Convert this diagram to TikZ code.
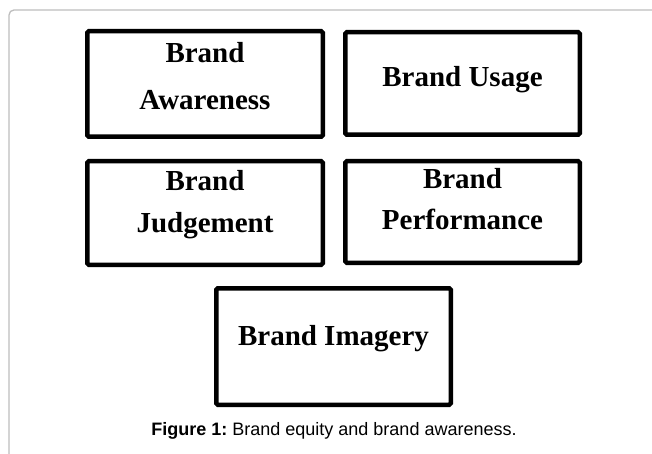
\documentclass[tikz,border=0pt]{standalone}
\usepackage{fontspec}
\setmainfont{Liberation Serif}
\newfontfamily\capfont{Liberation Sans}
\definecolor{framegray}{RGB}{190,190,190}
\frenchspacing
\tikzset{
  brandbox/.style={draw=black, line width=4.5pt, rounded corners=1.5pt, inner sep=0pt, fill=white},
  captext/.style={anchor=base, inner sep=0pt, font=\capfont\fontsize{18}{21}\selectfont},
  framepath/.style={draw=framegray, line width=1.3pt, rounded corners=5pt}
}
\newcommand{\bxtext}[5]{\parbox[c][#2pt][t]{#1pt}{\centering\fontsize{29}{#4}\selectfont\bfseries\rule{0pt}{#3pt}#5}}
\begin{document}
\begin{tikzpicture}[x=1pt, y=-1pt]
  \useasboundingbox (0,0) rectangle (652,454);
  \fill[white] (0,0) rectangle (652,454);
  \draw[framepath] (9,454) -- (9,10) -- (652,10);
  \node[brandbox] (aware) at (205,84) {\bxtext{235.5}{105.5}{31.75}{47}{Brand\\Awareness}};
  \node[brandbox] (usage) at (462.5,83.5) {\bxtext{234.5}{102.5}{54.75}{40}{Brand Usage}};
  \node[brandbox] (judge) at (205,213) {\bxtext{235.5}{103.5}{28.75}{42}{Brand\\Judgement}};
  \node[brandbox] (perf) at (462.5,212) {\bxtext{234.5}{101.5}{27.75}{41}{Brand\\Performance}};
  \node[brandbox] (imag) at (333.5,346.5) {\bxtext{234.5}{116.5}{56.75}{40}{Brand Imagery}};
  \node[captext] (caption) at (334,435) {\textbf{Figure 1:} Brand equity and brand awareness.};
\end{tikzpicture}
\end{document}
